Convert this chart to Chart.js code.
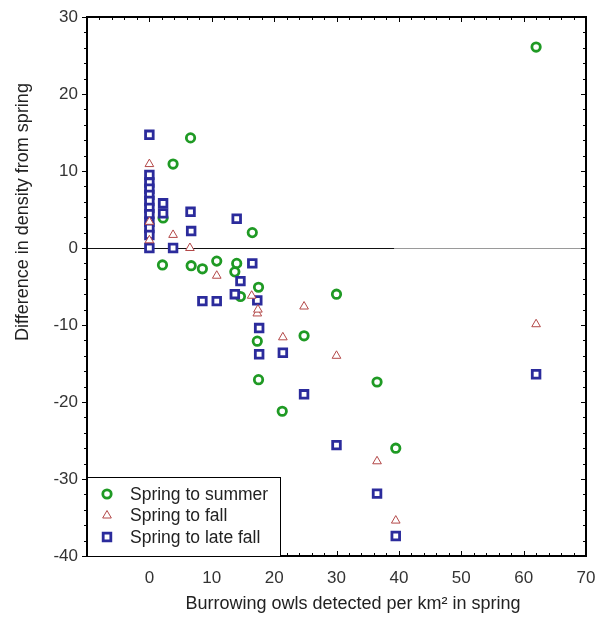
<!DOCTYPE html>
<html>
<head>
<meta charset="utf-8">
<script src="https://cdn.jsdelivr.net/npm/chart.js@4.4.0/dist/chart.umd.min.js"></script>
<style>
  html, body { margin: 0; padding: 0; background: #fff; }
  #chart { display: block; }
</style>
</head>
<body>
<canvas id="chart" width="600" height="624"></canvas>
<script>
// ── Data ─────────────────────────────────────────────────────────
const summerX = [2.2, 3.8, 6.6, 2.1, 6.7, 8.5, 10.8, 14.0, 13.7, 14.6, 16.5, 17.5, 17.3, 17.5, 21.3, 24.8, 30.0, 36.5, 39.5, 62.0];
const summerY = [3.9, 10.9, 14.3, -2.2, -2.3, -2.7, -1.7, -2.0, -3.1, -6.3, 2.0, -5.1, -12.1, -17.1, -21.2, -11.4, -6.0, -17.4, -26.0, 26.1];

const fallX = [0, 0, 0, 3.8, 6.5, 10.8, 16.4, 17.3, 17.4, 21.4, 24.8, 30.0, 36.5, 39.5, 62.0];
const fallY = [10.9, 3.4, 1.0, 1.7, 0.0, -3.6, -6.2, -8.5, -8.0, -11.6, -7.6, -14.0, -27.7, -35.4, -9.9];

const lateX = [0, 0, 0, 0, 0, 0, 0, 0, 0, 0, 0, 0, 2.2, 2.2, 3.8, 6.6, 6.7, 14.0, 16.5, 14.6, 8.5, 10.8, 13.7, 17.3, 17.6, 17.6, 21.4, 24.8, 30.0, 36.5, 39.5, 62.0];
const lateY = [14.7, 9.5, 8.5, 7.7, 6.9, 6.1, 5.2, 4.4, 3.4, 2.6, 1.7, 0.0, 5.8, 4.5, 0.0, 4.7, 2.2, 3.8, -2.0, -4.3, -6.9, -6.9, -6.0, -6.8, -10.4, -13.8, -13.6, -19.0, -25.6, -31.9, -37.4, -16.4];

const seriesLabels = ['Spring to summer', 'Spring to fall', 'Spring to late fall'];
const xRange = [-10, 70];
const yRange = [-40, 30];
const zeroLineSplit = 39.3;   // zero line turns light grey past this x

const FONT = "'Liberation Sans', Arial, sans-serif";
const toPts = (xs, ys) => xs.map((x, i) => ({ x, y: ys[i] }));

// ── Plugins ──────────────────────────────────────────────────────
const zeroLine = {
  id: 'zeroLine',
  beforeDatasetsDraw(chart) {
    const { ctx, scales: { x, y } } = chart;
    const py = Math.round(y.getPixelForValue(0)) + 0.5;
    const mid = x.getPixelForValue(zeroLineSplit);
    ctx.save();
    ctx.lineWidth = 1;
    ctx.strokeStyle = '#111';
    ctx.beginPath(); ctx.moveTo(x.left, py); ctx.lineTo(mid, py); ctx.stroke();
    ctx.strokeStyle = '#9a9a9a';
    ctx.beginPath(); ctx.moveTo(mid, py); ctx.lineTo(x.right, py); ctx.stroke();
    ctx.restore();
  },
};

const frame = {
  id: 'frame',
  afterDatasetsDraw(chart) {
    const { ctx, chartArea: a, scales: { x, y } } = chart;
    ctx.save();
    ctx.strokeStyle = '#000';
    ctx.lineWidth = 1;
    // minor + major ticks, every 2 units
    for (let v = xRange[0]; v <= xRange[1]; v += 2) {
      const px = Math.round(x.getPixelForValue(v)) + 0.5;
      const len = v % 10 === 0 ? 5 : 3;
      ctx.beginPath();
      ctx.moveTo(px, a.bottom); ctx.lineTo(px, a.bottom - len);
      ctx.moveTo(px, a.top); ctx.lineTo(px, a.top + len);
      ctx.stroke();
    }
    for (let v = yRange[0]; v <= yRange[1]; v += 2) {
      const py = Math.round(y.getPixelForValue(v)) + 0.5;
      const len = v % 10 === 0 ? 5 : 3;
      ctx.beginPath();
      ctx.moveTo(a.left, py); ctx.lineTo(a.left - len, py);
      ctx.moveTo(a.right, py); ctx.lineTo(a.right - len, py);
      ctx.stroke();
    }
    ctx.lineWidth = 2;
    ctx.strokeRect(a.left, a.top, a.right - a.left, a.bottom - a.top);
    ctx.restore();
  },
};

const boxLegend = {
  id: 'boxLegend',
  afterDraw(chart) {
    const { ctx, chartArea: a } = chart;
    const w = 193, h = 79;
    const bx = a.left, by = a.bottom - h;
    ctx.save();
    ctx.fillStyle = '#fff';
    ctx.fillRect(bx, by, w, h);
    ctx.strokeStyle = '#000';
    ctx.lineWidth = 1;
    ctx.strokeRect(bx + 0.5, by + 0.5, w, h);
    ctx.font = `17.5px ${FONT}`;
    ctx.textBaseline = 'middle';
    chart.data.datasets.forEach((ds, i) => {
      const cy = by + 17 + i * 21.5;
      ctx.fillStyle = ds.backgroundColor;
      ctx.strokeStyle = ds.borderColor;
      ctx.lineWidth = ds.borderWidth;
      Chart.helpers.drawPoint(ctx, {
        pointStyle: ds.pointStyle, radius: ds.pointRadius, rotation: 0, borderWidth: ds.borderWidth,
      }, bx + 20, cy);
      ctx.fillStyle = '#222';
      ctx.textAlign = 'left';
      ctx.fillText(ds.label, bx + 43, cy + 1);
    });
    ctx.restore();
  },
};

const axisTitles = {
  id: 'axisTitles',
  afterDraw(chart) {
    const { ctx } = chart;
    ctx.save();
    ctx.fillStyle = '#222';
    ctx.font = `18px ${FONT}`;
    ctx.textAlign = 'center';
    ctx.textBaseline = 'middle';
    ctx.fillText('Burrowing owls detected per km² in spring', 353, 604);
    ctx.translate(23, 212);
    ctx.rotate(-Math.PI / 2);
    ctx.fillText('Difference in density from spring', 0, 0);
    ctx.restore();
  },
};

// ── Chart ────────────────────────────────────────────────────────
new Chart(document.getElementById('chart'), {
  type: 'scatter',
  data: {
    datasets: [
      {
        label: seriesLabels[0], data: toPts(summerX, summerY), order: 2,
        pointStyle: 'circle', pointRadius: 4.2, borderWidth: 2.8,
        borderColor: '#1f9a24', backgroundColor: '#ffffff',
      },
      {
        label: seriesLabels[1], data: toPts(fallX, fallY), order: 0,
        pointStyle: 'triangle', pointRadius: 5, borderWidth: 1,
        borderColor: '#b34848', backgroundColor: '#ffffff',
      },
      {
        label: seriesLabels[2], data: toPts(lateX, lateY), order: 1,
        pointStyle: 'rect', pointRadius: 5.4, borderWidth: 2.8,
        borderColor: '#2b2b9c', backgroundColor: '#ffffff',
      },
    ],
  },
  options: {
    responsive: false,
    animation: false,
    layout: { padding: { top: 17, right: 14, left: 0, bottom: 0 } },
    plugins: { legend: { display: false }, tooltip: { enabled: false } },
    scales: {
      x: {
        type: 'linear', min: xRange[0], max: xRange[1],
        grid: { display: false, drawTicks: false },
        border: { display: false },
        ticks: {
          stepSize: 10, padding: 12, color: '#333', font: { family: FONT, size: 17 },
          callback: v => (v < 0 ? '' : v),
        },
        afterFit: s => { s.height = 68; s.paddingLeft = 0; s.paddingRight = 0; },
      },
      y: {
        type: 'linear', min: yRange[0], max: yRange[1],
        grid: { display: false, drawTicks: false },
        border: { display: false },
        ticks: { stepSize: 10, padding: 9, color: '#333', font: { family: FONT, size: 17 } },
        afterFit: s => { s.width = 87; s.paddingTop = 0; s.paddingBottom = 0; },
      },
    },
  },
  plugins: [zeroLine, frame, boxLegend, axisTitles],
});
</script>
</body>
</html>
